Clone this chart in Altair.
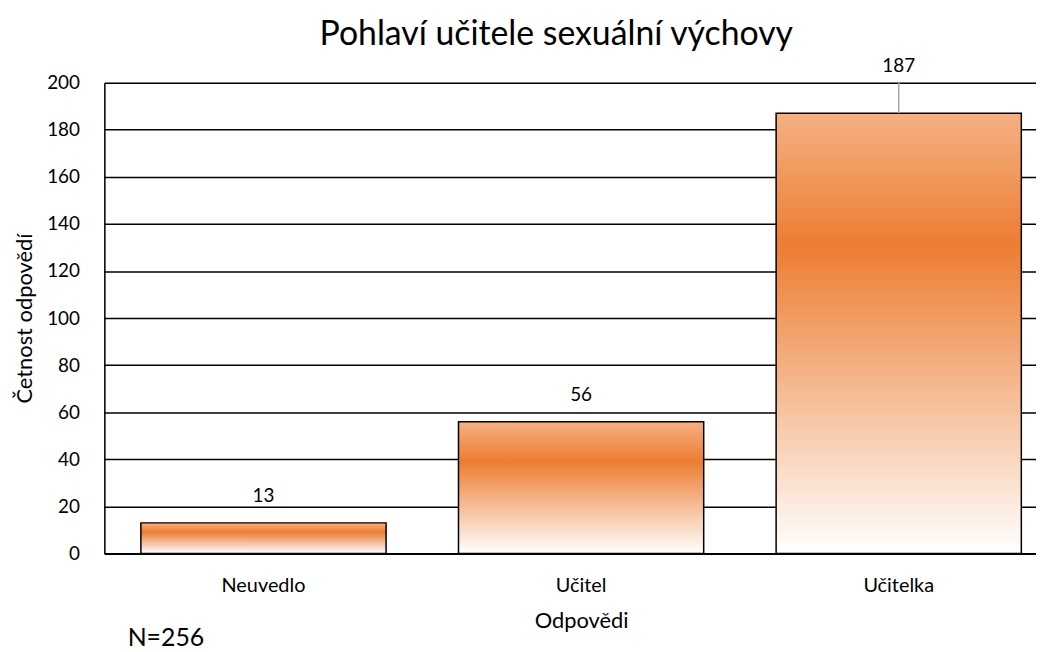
import altair as alt
import pandas as pd

categories = ["Neuvedlo", "Učitel", "Učitelka"]
counts = [13, 56, 187]
y_ticks = [0, 20, 40, 60, 80, 100, 120, 140, 160, 180, 200]
title_text = "Pohlaví učitele sexuální výchovy"
note_text = "N=256"

df = pd.DataFrame({"cat": categories, "val": counts})
FONT = "Lato"

gradient = {
    "gradient": "linear", "x1": 0, "y1": 0, "x2": 0, "y2": 1,
    "stops": [
        {"offset": 0, "color": "#F4B183"},
        {"offset": 0.3, "color": "#ED7D31"},
        {"offset": 1, "color": "#FFFFFF"},
    ],
}

x_scale = alt.Scale(paddingInner=0.228, paddingOuter=0.115, range=[0, 960])
y_scale = alt.Scale(domain=[0, 200], nice=False)

x_enc = alt.X("cat:N", sort=categories, scale=x_scale,
              axis=alt.Axis(title="Odpovědi", labelAngle=0, labelFontSize=20,
                            labelFont=FONT, labelColor="#000", labelPadding=22,
                            titleFont=FONT, titleFontSize=22, titleFontWeight="normal",
                            titleColor="#000", titlePadding=16, ticks=False,
                            domainColor="#000", domainWidth=2, grid=False))

base = alt.Chart(df)

bars = base.mark_bar(color=gradient, stroke="#000", strokeWidth=1.5).encode(
    x=x_enc,
    y=alt.Y("val:Q", scale=y_scale,
            axis=alt.Axis(title="Četnost odpovědí", values=y_ticks, labelFontSize=19,
                          labelFont=FONT, labelColor="#000", labelPadding=25,
                          titleFont=FONT, titleFontSize=22, titleFontWeight="normal",
                          titleColor="#000", titlePadding=10, ticks=False,
                          domainColor="#000", domainWidth=1.5,
                          grid=True, gridColor="#000", gridWidth=1.5)),
)

x_plain = alt.X("cat:N", sort=categories, scale=x_scale)

labels_in = base.transform_filter("datum.val < 180").mark_text(
    font=FONT, fontSize=19, color="#000", dy=-27).encode(
    x=x_plain, y=alt.Y("val:Q", scale=y_scale), text="val:Q")

labels_out = base.transform_filter("datum.val > 180").transform_calculate(top="200").mark_text(
    font=FONT, fontSize=19, color="#000", dy=-17).encode(
    x=x_plain, y=alt.Y("top:Q", scale=y_scale), text="val:Q")

leader = base.transform_filter("datum.val > 180").transform_calculate(top="200").mark_rule(
    color="#A6A6A6", strokeWidth=1.5).encode(
    x=x_plain, y=alt.Y("val:Q", scale=y_scale), y2="top:Q")

note = alt.Chart(pd.DataFrame({"t": [note_text]})).mark_text(
    font=FONT, fontSize=25, color="#000").encode(
    x=alt.value(62), y=alt.value(559), text="t:N")

chart = alt.layer(bars, leader, labels_in, labels_out, note).properties(
    width=938, height=474,
    title=alt.TitleParams(title_text, font=FONT, fontSize=34, fontWeight="normal",
                          color="#000", anchor="middle", offset=5, dx=-14),
    autosize=alt.AutoSizeParams(type="none"),
    padding={"left": 97, "top": 73, "right": 0, "bottom": 96},
).configure_view(stroke=None).configure(background="white")

chart.save("out.html", embed_options={"renderer": "svg", "actions": False})
